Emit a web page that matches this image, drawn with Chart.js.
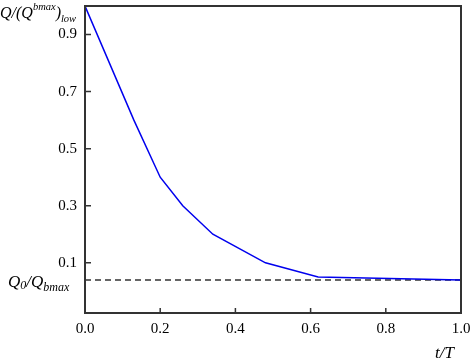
<!DOCTYPE html>
<html>
<head>
<meta charset="utf-8">
<script src="https://cdn.jsdelivr.net/npm/chart.js@4"></script>
<style>
  html, body { margin: 0; padding: 0; background: #fff; }
  #wrap { width: 472px; height: 362px; }
</style>
</head>
<body>
<div id="wrap"><canvas id="chart"></canvas></div>
<script>
// values
const tValues = [0, 0.13, 0.2, 0.26, 0.34, 0.48, 0.62, 1.0];
const qValues = [1.0, 0.6, 0.4, 0.3, 0.2, 0.1, 0.05, 0.04];
const q0Level = 0.04;
const xTicks = [0, 0.2, 0.4, 0.6, 0.8, 1.0];
const yTicks = [0.1, 0.3, 0.5, 0.7, 0.9];

const serif = "'Liberation Serif', 'DejaVu Serif', serif";
const axisColor = '#333333';

// ticks drawn inward + axis titles with sub/superscripts
const decor = {
    id: 'decor',
    afterDraw(chart) {
        const ctx = chart.ctx;
        const a = chart.chartArea;
        const xs = chart.scales.x, ys = chart.scales.y;
        ctx.save();
        ctx.strokeStyle = axisColor;
        ctx.lineWidth = 1.5;
        ctx.beginPath();
        yTicks.forEach(v => {
            const y = ys.getPixelForValue(v);
            ctx.moveTo(a.left, y);
            ctx.lineTo(a.left + 6, y);
        });
        xTicks.forEach(v => {
            const x = xs.getPixelForValue(v);
            ctx.moveTo(x, a.bottom);
            ctx.lineTo(x, a.bottom - 5);
        });
        ctx.stroke();
        // frame
        ctx.lineWidth = 2;
        ctx.strokeRect(a.left, a.top, a.right - a.left, a.bottom - a.top);

        ctx.fillStyle = '#000';
        ctx.textBaseline = 'alphabetic';
        const it = s => 'italic ' + s + 'px ' + serif;
        const put = (txt, x, y, size) => {
            ctx.font = it(size);
            ctx.fillText(txt, x, y);
            return x + ctx.measureText(txt).width;
        };
        // Q/(Q^bmax)_low
        let x = put('Q/(Q', 0, 18, 16);
        x = put('bmax', x, 10, 10.5);
        x = put(')', x, 18, 16);
        put('low', x, 22, 10.5);

        // Q0/Qbmax next to the dashed line
        const yl = ys.getPixelForValue(q0Level) + 7;
        x = put('Q', 8, yl, 17);
        x = put('0', x, yl + 2, 12);
        x = put('/Q', x, yl, 17);
        put('bmax', x, yl + 4, 12);

        // t/T
        put('t/T', 435, 358, 17);
        ctx.restore();
    }
};

new Chart(document.getElementById('chart'), {
    type: 'scatter',
    data: {
        datasets: [
            {
                data: tValues.map((t, i) => ({ x: t, y: qValues[i] })),
                showLine: true,
                borderColor: '#0000ee',
                borderWidth: 1.5,
                pointRadius: 0,
                tension: 0
            },
            {
                data: [{ x: 0, y: q0Level }, { x: 1, y: q0Level }],
                showLine: true,
                borderColor: '#333333',
                borderWidth: 1.5,
                borderDash: [6, 4],
                pointRadius: 0
            }
        ]
    },
    options: {
        responsive: true,
        maintainAspectRatio: false,
        animation: false,
        layout: { padding: { left: 0, top: 6, right: 11, bottom: 0 } },
        plugins: { legend: { display: false }, tooltip: { enabled: false } },
        scales: {
            x: {
                type: 'linear',
                min: 0,
                max: 1,
                afterBuildTicks: s => { s.ticks = xTicks.map(v => ({ value: v })); },
                afterFit: s => {
                    s.height = 49;
                    s.paddingLeft = 0;
                    s.paddingRight = 0;
                },
                grid: { display: false, drawTicks: false },
                border: { display: false },
                ticks: {
                    padding: 7,
                    color: '#000',
                    font: { family: serif, size: 15 },
                    callback: v => v.toFixed(1)
                }
            },
            y: {
                type: 'linear',
                min: -0.076,
                max: 1.0,
                afterBuildTicks: s => { s.ticks = yTicks.map(v => ({ value: v })); },
                afterFit: s => {
                    s.width = 85;
                    s.paddingTop = 0;
                    s.paddingBottom = 0;
                },
                grid: { display: false, drawTicks: false },
                border: { display: false },
                ticks: {
                    padding: 8,
                    color: '#000',
                    font: { family: serif, size: 15 },
                    callback: v => v.toFixed(1)
                }
            }
        }
    },
    plugins: [decor]
});
</script>
</body>
</html>
